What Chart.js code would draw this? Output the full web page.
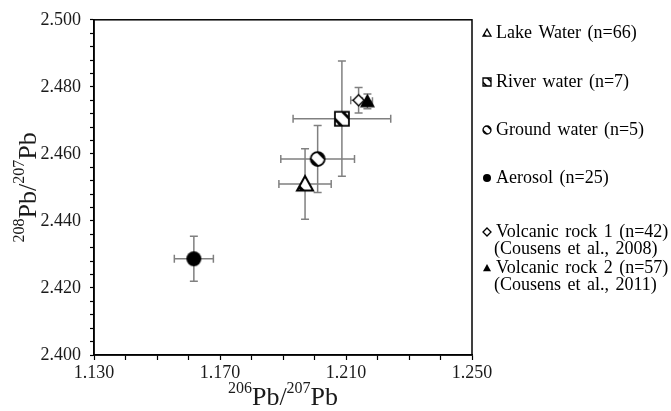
<!DOCTYPE html>
<html>
<head>
<meta charset="utf-8">
<script src="https://cdn.jsdelivr.net/npm/chart.js@4.4.0/dist/chart.umd.min.js"></script>
<style>
  html, body { margin: 0; padding: 0; background: #fff; }
  #wrap { width: 671px; height: 411px; }
</style>
</head>
<body>
<div id="wrap"><canvas id="leadChart" width="671" height="411"></canvas></div>
<script>
// sources, legend text and marker kind
const sourceNames = ["Lake Water", "River water", "Ground water", "Aerosol", "Volcanic rock 1", "Volcanic rock 2"];
const legendLines = [
    ["Lake Water (n=66)"],
    ["River water (n=7)"],
    ["Ground water (n=5)"],
    ["Aerosol (n=25)"],
    ["Volcanic rock 1 (n=42)", "(Cousens et al., 2008)"],
    ["Volcanic rock 2 (n=57)", "(Cousens et al., 2011)"]
];
const markerKinds = ["triangle", "square", "circle", "dot", "diamond", "triangleFilled"];

// mean ratios and their error bars
const pb206_207 = [1.197, 1.2087, 1.201, 1.1617, 1.2140, 1.2168];
const pb208_207 = [2.451, 2.4705, 2.4585, 2.4287, 2.4760, 2.4757];
const pb206_207Err = [0.0083, 0.0155, 0.0117, 0.0062, 0.0025, 0.0016];
const pb208_207Err = [0.0105, 0.0172, 0.0100, 0.0067, 0.0038, 0.0022];

// axes
const xTickLabels = [1.130, 1.170, 1.210, 1.250];
const yTickLabels = [2.400, 2.420, 2.440, 2.460, 2.480, 2.500];
const xMinorStep = 0.010;
const yMinorStep = 0.004;

const serif = '"Liberation Serif", "Times New Roman", serif';

function tickValues(labels, step) {
    const min = labels[0], max = labels[labels.length - 1];
    const vals = [];
    for (let i = 0; i <= Math.round((max - min) / step); i++) {
        vals.push(+(min + i * step).toFixed(4));
    }
    return vals;
}

function isMajor(v, labels) {
    return labels.some(t => Math.abs(t - v) < 1e-6);
}

function shapePath(g, kind, m, r) {
    g.beginPath();
    if (kind === "triangle" || kind === "triangleFilled") {
        g.moveTo(m, m - r);
        g.lineTo(m + r, m + r * 0.8);
        g.lineTo(m - r, m + r * 0.8);
        g.closePath();
    } else if (kind === "square") {
        g.rect(m - r, m - r, 2 * r, 2 * r);
    } else if (kind === "diamond") {
        g.moveTo(m, m - r);
        g.lineTo(m + r, m);
        g.lineTo(m, m + r);
        g.lineTo(m - r, m);
        g.closePath();
    } else {
        g.arc(m, m, r, 0, Math.PI * 2);
    }
}

// draws the patterned markers into small canvases
function makeMarker(kind, s) {
    const pad = 2;
    const c = document.createElement("canvas");
    c.width = c.height = s + pad * 2;
    const g = c.getContext("2d");
    const m = (s + pad * 2) / 2, r = s / 2;
    const lw = Math.max(1.3, s / 8);
    shapePath(g, kind, m, r);
    if (kind === "dot" || kind === "triangleFilled") {
        g.fillStyle = "#000";
        g.fill();
        return c;
    }
    g.fillStyle = "#fff";
    g.fill();
    if (kind !== "diamond") {
        g.save();
        g.clip();
        g.strokeStyle = "#000";
        g.lineWidth = s * 0.2;
        [-0.27, 0.27].forEach(o => {
            g.beginPath();
            g.moveTo(m - s + o * s, m - s - o * s);
            g.lineTo(m + s + o * s, m + s - o * s);
            g.stroke();
        });
        g.restore();
    }
    shapePath(g, kind, m, r);
    g.strokeStyle = "#000";
    g.lineWidth = lw;
    g.stroke();
    return c;
}

const plotSizes = [16, 14, 14, 15, 11, 15];
const plotMarkers = markerKinds.map((k, i) => makeMarker(k, plotSizes[i]));
const legendMarkers = markerKinds.map(k => makeMarker(k, 8));

const datasets = sourceNames.map((name, i) => ({
    label: name,
    data: [{ x: pb206_207[i], y: pb208_207[i], xErr: pb206_207Err[i], yErr: pb208_207Err[i] }],
    pointStyle: plotMarkers[i],
    pointRadius: 7,
    pointHoverRadius: 7
}));

const errorBars = {
    id: "errorBars",
    beforeDatasetsDraw(chart) {
        const { ctx, scales: { x, y } } = chart;
        ctx.save();
        ctx.strokeStyle = "#808080";
        ctx.lineWidth = 1.5;
        chart.data.datasets.forEach(ds => {
            const p = ds.data[0];
            const cx = x.getPixelForValue(p.x), cy = y.getPixelForValue(p.y);
            const x0 = x.getPixelForValue(p.x - p.xErr), x1 = x.getPixelForValue(p.x + p.xErr);
            const y0 = y.getPixelForValue(p.y - p.yErr), y1 = y.getPixelForValue(p.y + p.yErr);
            const cap = 4;
            ctx.beginPath();
            ctx.moveTo(x0, cy); ctx.lineTo(x1, cy);
            ctx.moveTo(x0, cy - cap); ctx.lineTo(x0, cy + cap);
            ctx.moveTo(x1, cy - cap); ctx.lineTo(x1, cy + cap);
            ctx.moveTo(cx, y0); ctx.lineTo(cx, y1);
            ctx.moveTo(cx - cap, y0); ctx.lineTo(cx + cap, y0);
            ctx.moveTo(cx - cap, y1); ctx.lineTo(cx + cap, y1);
            ctx.stroke();
        });
        ctx.restore();
    }
};

// 206Pb/207Pb style label with superscript mass numbers
function drawIsotopeLabel(ctx, a, b, cx, cy, angle) {
    const big = "26px " + serif, small = "16px " + serif;
    const parts = [[a, true], ["Pb/", false], [b, true], ["Pb", false]];
    let total = 0;
    parts.forEach(p => { ctx.font = p[1] ? small : big; total += ctx.measureText(p[0]).width; });
    ctx.save();
    ctx.translate(cx, cy);
    ctx.rotate(angle);
    ctx.fillStyle = "#1a1a1a";
    ctx.textBaseline = "alphabetic";
    let xPos = -total / 2;
    parts.forEach(p => {
        ctx.font = p[1] ? small : big;
        ctx.fillText(p[0], xPos, p[1] ? -3 : 9);
        xPos += ctx.measureText(p[0]).width;
    });
    ctx.restore();
}

const frameAndLabels = {
    id: "frameAndLabels",
    afterDraw(chart) {
        const { ctx, chartArea: a } = chart;
        ctx.save();
        ctx.strokeStyle = "#000";
        ctx.lineWidth = 1.5;
        ctx.strokeRect(a.left, a.top, a.right - a.left, a.bottom - a.top);
        ctx.restore();

        drawIsotopeLabel(ctx, "206", "207", (a.left + a.right) / 2, 396, 0);
        drawIsotopeLabel(ctx, "208", "207", 27, (a.top + a.bottom) / 2, -Math.PI / 2);

        // legend on the right
        ctx.save();
        ctx.fillStyle = "#000";
        ctx.font = "18px " + serif;
        if ("wordSpacing" in ctx) ctx.wordSpacing = "2px";
        ctx.textBaseline = "middle";
        const rows = [33, 82, 130, 178, 232, 268];
        const mx = 487, tx = 496;
        legendLines.forEach((lines, i) => {
            const mk = legendMarkers[i];
            ctx.drawImage(mk, mx - mk.width / 2, rows[i] - mk.height / 2);
            lines.forEach((t, j) => ctx.fillText(t, j === 0 ? tx : tx - 2, rows[i] + j * 17));
        });
        ctx.restore();
    }
};

new Chart(document.getElementById("leadChart"), {
    type: "scatter",
    data: { datasets: datasets },
    options: {
        responsive: false,
        animation: false,
        devicePixelRatio: 1,
        layout: { padding: { top: 13, right: 199, left: 0, bottom: 0 } },
        plugins: { legend: { display: false }, tooltip: { enabled: false } },
        scales: {
            x: {
                type: "linear",
                min: xTickLabels[0],
                max: xTickLabels[xTickLabels.length - 1],
                afterBuildTicks: s => { s.ticks = tickValues(xTickLabels, xMinorStep).map(v => ({ value: v })); },
                afterFit: s => { s.height = 56; },
                ticks: {
                    autoSkip: false,
                    maxRotation: 0,
                    padding: 2,
                    color: "#1a1a1a",
                    font: { family: serif, size: 18 },
                    callback: v => isMajor(v, xTickLabels) ? v.toFixed(3) : ""
                },
                grid: { drawOnChartArea: false, tickLength: 5, tickColor: "#000", tickWidth: 1.2 },
                border: { color: "#000", width: 1.5 }
            },
            y: {
                type: "linear",
                min: yTickLabels[0],
                max: yTickLabels[yTickLabels.length - 1],
                afterBuildTicks: s => { s.ticks = tickValues(yTickLabels, yMinorStep).map(v => ({ value: v })); },
                afterFit: s => { s.width = 94; },
                ticks: {
                    autoSkip: false,
                    padding: 9,
                    color: "#1a1a1a",
                    font: { family: serif, size: 18 },
                    callback: v => isMajor(v, yTickLabels) ? v.toFixed(3) : ""
                },
                grid: { drawOnChartArea: false, tickLength: 4, tickColor: "#000", tickWidth: 1.2 },
                border: { color: "#000", width: 1.5 }
            }
        }
    },
    plugins: [errorBars, frameAndLabels]
});
</script>
</body>
</html>
